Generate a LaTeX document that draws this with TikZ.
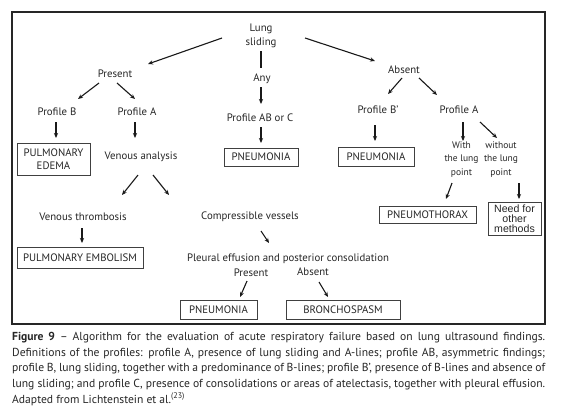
\documentclass[tikz,border=0pt]{standalone}
\usepackage{fontspec}
\setmainfont{PT Sans}
\newfontfamily\narrowfont{Liberation Sans}
\usetikzlibrary{arrows.meta,calc}
\begin{document}
\begin{tikzpicture}[x=1pt,y=-1pt,
  txt/.style={inner sep=0pt,font=\fontsize{10.8}{14}\selectfont,align=center,text=black!85},
  boxed/.style={draw=black!75,line width=0.8pt,inner sep=0pt,font=\fontsize{10.8}{14}\selectfont,align=center,text=black!85},
  arr/.style={line width=1.1pt,black!90,-{Stealth[length=5pt,width=4.2pt]}},
  plain/.style={line width=1.1pt,black!90}]
\useasboundingbox (0,0) rectangle (569,416);
\fill[white] (0,0) rectangle (569,416);
\draw[line width=1.4pt,black!85] (12,12) rectangle (545,324);
% nodes
\node[txt] (ls) at (261,36) {Lung\\sliding};
\node[txt] (pres) at (115,74) {Present};
\node[txt] (any) at (262,79) {Any};
\node[txt] (abs) at (404,70) {Absent};
\node[txt] (pb) at (57,112) {Profile B};
\node[txt] (pa1) at (137,112) {Profile A};
\node[txt] (pabc) at (260,118) {Profile AB or C};
\node[txt] (pbp) at (378,110) {Profile B'};
\node[txt] (pa2) at (459,110) {Profile A};
\node[boxed,minimum width=73pt,minimum height=32pt] (edema) at (53.5,159) {PULMONARY\\[-1.5pt]EDEMA};
\node[txt] (venan) at (141,157) {Venous analysis};
\node[boxed,minimum width=74pt,minimum height=18pt] (pn1) at (261,157) {PNEUMONIA};
\node[boxed,minimum width=76pt,minimum height=19pt] (pn2) at (376,156.5) {PNEUMONIA};
\node[txt,font=\fontsize{9.5}{13.5}\selectfont] (with) at (461.5,159.5) {With\\the lung\\point};
\node[txt,font=\fontsize{9.5}{13.5}\selectfont] (without) at (501,159.5) {without\\the lung\\point};
\node[boxed,minimum width=97pt,minimum height=17pt] (ptx) at (427.5,214.5) {PNEUMOTHORAX};
\node[boxed,minimum width=53pt,minimum height=33pt,font=\narrowfont\fontsize{10.6}{10.2}\selectfont] (need) at (514.5,218.5) {Need for\\other\\methods};
\node[txt] (vt) at (83,217) {Venous thrombosis};
\node[txt] (cv) at (250,217) {Compressible vessels};
\node[boxed,minimum width=126pt,minimum height=21pt] (pe) at (80,257.5) {PULMONARY EMBOLISM};
\node[txt] (pleural) at (288,259) {Pleural effusion and posterior consolidation};
\node[txt] (pres2) at (251,273) {Present};
\node[txt] (abs2) at (313,272) {Absent};
\node[boxed,minimum width=77pt,minimum height=19pt] (pn3) at (218.5,309.5) {PNEUMONIA};
\node[boxed,minimum width=114pt,minimum height=19pt] (bronch) at (343,309.5) {BRONCHOSPASM};
% connectors
\draw[arr] ($(ls)+(-39,2)$) -- ($(pres)+(33,-10)$);
\draw[plain] ($(ls)+(0,15)$) -- ($(any)+(-1,-11)$);
\draw[arr] ($(any)+(-1,8)$) -- ($(pabc)+(1,-14)$);
\draw[arr] ($(ls)+(44,2)$) -- ($(abs)+(-29,-9)$);
\draw[arr] ($(pres)+(-16,9)$) -- ($(pb)+(21,-13)$);
\draw[arr] ($(pres)+(2,9)$) -- ($(pa1)+(-2,-13)$);
\draw[arr] ($(pb)+(-1,10)$) -- ($(edema)+(2.5,-21)$);
\draw[arr] ($(pa1)+(-2,10)$) -- ($(venan)+(-6,-19)$);
\draw[arr] ($(pabc)+(1,9)$) -- ($(pn1)+(0,-14)$);
\draw[arr] ($(abs)+(-2,8)$) -- ($(pbp)+(10,-16)$);
\draw[arr] ($(abs)+(15,8)$) -- ($(pa2)+(-22,-15)$);
\draw[arr] ($(pbp)+(-3,15)$) -- ($(pn2)+(-1,-15.5)$);
\draw[arr] ($(pa2)+(4,12)$) -- ($(with)+(1.5,-18.5)$);
\draw[arr] ($(pa2)+(21,12)$) -- ($(without)+(-4,-21.5)$);
\draw[arr] ($(with)+(-9.5,23.5)$) -- ($(ptx)+(18.5,-15.5)$);
\draw[arr] ($(without)+(18,23.5)$) -- ($(need)+(4.5,-19.5)$);
\draw[arr] ($(venan)+(-3,18)$) -- ($(vt)+(39,-22)$);
\draw[arr] ($(venan)+(12,18)$) -- ($(cv)+(-81,-22)$);
\draw[arr] ($(vt)+(-1,11)$) -- ($(pe)+(2,-14.5)$);
\draw[arr] ($(cv)+(11,14)$) -- ($(pleural)+(-19,-16)$);
\draw[arr] ($(pres2)+(-4,8)$) -- ($(pn3)+(21.5,-12.5)$);
\draw[arr] ($(abs2)+(6,10)$) -- ($(bronch)+(-15,-12.5)$);
% caption
\node[inner sep=0pt,anchor=north west,text width=533pt,align=justify,
  font=\fontsize{11.6}{15.7}\selectfont,text=black!85] (cap) at (12,332)
  {\textbf{Figure 9} – Algorithm for the evaluation of acute respiratory failure based on lung ultrasound findings.\linebreak
  Definitions of the profiles: profile A, presence of lung sliding and A-lines; profile AB, asymmetric findings;\linebreak
  profile B, lung sliding, together with a predominance of B-lines; profile B', presence of B-lines and absence of\linebreak
  lung sliding; and profile C, presence of consolidations or areas of atelectasis, together with pleural effusion.\linebreak
  Adapted from Lichtenstein et al.\textsuperscript{(23)}};
\end{tikzpicture}
\end{document}
